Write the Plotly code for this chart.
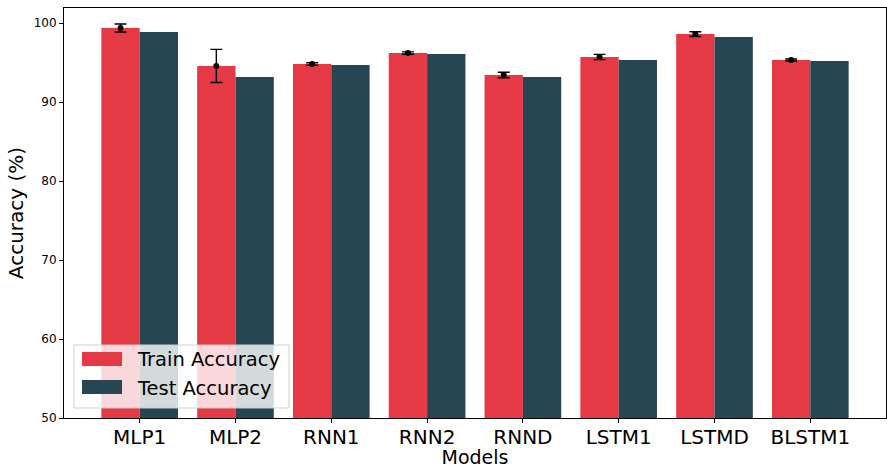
import plotly.graph_objects as go

models = ["MLP1", "MLP2", "RNN1", "RNN2", "RNND", "LSTM1", "LSTMD", "BLSTM1"]
train_acc = [99.37, 94.56, 94.81, 96.2, 93.42, 95.7, 98.6, 95.32]
train_err = [0.5, 2.1, 0.15, 0.15, 0.35, 0.33, 0.3, 0.12]
test_acc = [98.86, 93.16, 94.68, 96.08, 93.16, 95.32, 98.23, 95.19]
series_names = ["Train Accuracy", "Test Accuracy"]
series_colors = ["#E63946", "#264653"]

idx = list(range(len(models)))
x_train = [i - 0.2 for i in idx]
x_test = [i + 0.2 for i in idx]

fig = go.Figure()
fig.add_trace(go.Bar(x=x_train, y=train_acc, width=0.4, name=series_names[0],
                     marker=dict(color=series_colors[0], line=dict(width=0))))
fig.add_trace(go.Bar(x=x_test, y=test_acc, width=0.4, name=series_names[1],
                     marker=dict(color=series_colors[1], line=dict(width=0))))
fig.add_trace(go.Scatter(x=x_train, y=train_acc, mode="markers", showlegend=False,
                         marker=dict(color="black", size=6),
                         error_y=dict(type="data", array=train_err, color="black",
                                      thickness=1.4, width=6)))

# manual matplotlib-style legend (paper coordinates)
shapes = [dict(type="rect", xref="paper", yref="paper", x0=0.0122, x1=0.2737, y0=0.0244, y1=0.178,
               fillcolor="rgba(255,255,255,0.8)", line=dict(color="#d0d0d0", width=1), layer="above")]
annotations = []
legend_rows = [(0.1268, 0.161, 0.1415), (0.0585, 0.0927, 0.073)]
for (y0, y1, yc), nm, col in zip(legend_rows, series_names, series_colors):
    shapes.append(dict(type="rect", xref="paper", yref="paper", x0=0.0219, x1=0.0706, y0=y0, y1=y1,
                       fillcolor=col, line=dict(width=0), layer="above"))
    annotations.append(dict(text=nm, xref="paper", yref="paper", x=0.0865, y=yc, xanchor="left",
                            yanchor="middle", showarrow=False, font=dict(size=19.5, color="black")))

fig.update_layout(
    width=887, height=468,
    margin=dict(l=64, r=1, t=8, b=50),
    plot_bgcolor="white", paper_bgcolor="white",
    font=dict(family="DejaVu Sans", color="black"),
    barmode="overlay",
    showlegend=False,
    shapes=shapes, annotations=annotations,
)
fig.update_xaxes(range=[-0.79, 7.79], tickmode="array", tickvals=idx, ticktext=models,
                 tickfont=dict(size=20), title=dict(text="Models", font=dict(size=19), standoff=2),
                 automargin=False, ticklabelstandoff=-3,
                 showline=True, linecolor="black", linewidth=1, mirror=True,
                 ticks="outside", ticklen=4, tickcolor="black", showgrid=False, zeroline=False)
fig.update_yaxes(range=[50, 101.9], tickvals=[50, 60, 70, 80, 90, 100],
                 tickfont=dict(size=12), title=dict(text="Accuracy (%)", font=dict(size=20), standoff=4),
                 automargin=False,
                 showline=True, linecolor="black", linewidth=1, mirror=True,
                 ticks="outside", ticklen=4, tickcolor="black", showgrid=False, zeroline=False)

fig.write_html("out.html", config={"displayModeBar": False},
               post_script="document.body.style.margin='0';")
